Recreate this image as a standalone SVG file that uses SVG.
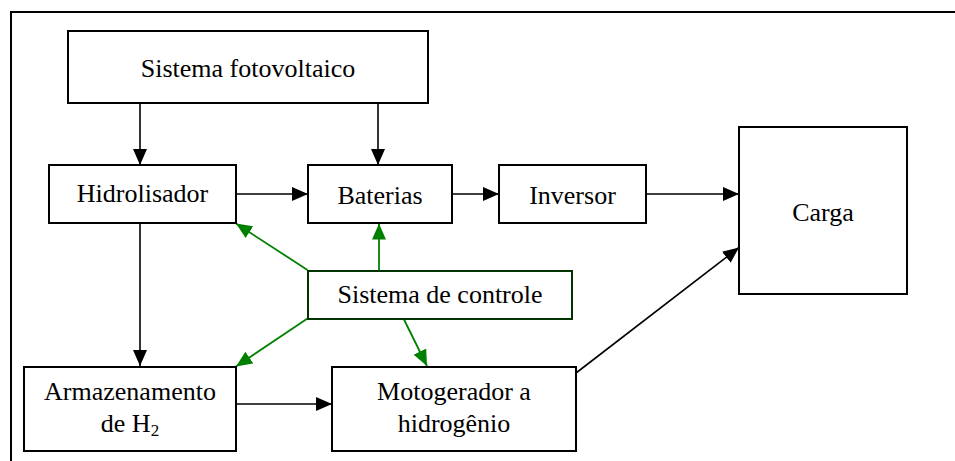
<svg xmlns="http://www.w3.org/2000/svg" width="955" height="461" viewBox="0 0 955 461">
<defs>
<style>
.box{fill:#fff;stroke:#000;stroke-width:2}
.gbox{fill:#fff;stroke:#003300;stroke-width:2}
.t{font-size:26px;fill:#000;text-anchor:middle}
.c{stroke:#000;stroke-width:1.6;fill:none}
.g{stroke:#008000;stroke-width:1.8;fill:none}
</style>
<marker id="ab" markerUnits="userSpaceOnUse" markerWidth="16" markerHeight="16" viewBox="0 0 16 16" refX="16" refY="8" orient="auto">
<path d="M0,1 L16,8 L0,15 Z" fill="#000"/>
</marker>
<marker id="ag" markerUnits="userSpaceOnUse" markerWidth="16" markerHeight="16" viewBox="0 0 16 16" refX="16" refY="8" orient="auto">
<path d="M0,1 L16,8 L0,15 Z" fill="#008000"/>
</marker>
</defs>
<rect width="955" height="461" fill="#fff"/>
<g id="frame">
<path d="M11,461 L11,12 L955,12" fill="none" stroke="#000" stroke-width="2"/>
</g>
<g id="connectors">
<line class="c" x1="140" y1="103" x2="140" y2="165" marker-end="url(#ab)"/>
<line class="c" x1="378" y1="103" x2="378" y2="165" marker-end="url(#ab)"/>
<line class="c" x1="236" y1="194" x2="308" y2="194" marker-end="url(#ab)"/>
<line class="c" x1="452" y1="194" x2="499" y2="194" marker-end="url(#ab)"/>
<line class="c" x1="646" y1="194" x2="739" y2="194" marker-end="url(#ab)"/>
<line class="c" x1="140" y1="223" x2="140" y2="366" marker-end="url(#ab)"/>
<line class="c" x1="236" y1="404" x2="332" y2="404" marker-end="url(#ab)"/>
<line class="c" x1="576" y1="373" x2="739" y2="247.5" marker-end="url(#ab)"/>
<line class="g" x1="307.5" y1="270" x2="236" y2="223.5" marker-end="url(#ag)"/>
<line class="g" x1="379" y1="270" x2="379" y2="223.5" marker-end="url(#ag)"/>
<line class="g" x1="307.5" y1="318.5" x2="236" y2="366.5" marker-end="url(#ag)"/>
<line class="g" x1="403.5" y1="318.5" x2="427" y2="366" marker-end="url(#ag)"/>
</g>
<g id="texts" font-family="Liberation Serif, DejaVu Serif, serif">
<g id="sistema-fotovoltaico">
<rect class="box" x="68" y="31" width="360" height="72"/>
<text class="t" x="248" y="77">Sistema fotovoltaico</text>
</g>
<g id="hidrolisador">
<rect class="box" x="49" y="165" width="187" height="58"/>
<text class="t" x="142.5" y="202">Hidrolisador</text>
</g>
<g id="baterias">
<rect class="box" x="308" y="165" width="144" height="58"/>
<text class="t" x="380" y="204">Baterias</text>
</g>
<g id="inversor">
<rect class="box" x="499" y="165" width="147" height="58"/>
<text class="t" x="572.5" y="204">Inversor</text>
</g>
<g id="carga">
<rect class="box" x="739" y="127" width="168" height="167"/>
<text class="t" x="823" y="221">Carga</text>
</g>
<g id="sistema-de-controle">
<rect class="gbox" x="308" y="271" width="264" height="48"/>
<text class="t" x="440" y="303">Sistema de controle</text>
</g>
<g id="armazenamento">
<rect class="box" x="24" y="367" width="212" height="84"/>
<text class="t" x="130" y="400">Armazenamento</text>
<text class="t" x="130" y="432">de H<tspan font-size="17" dy="4">2</tspan></text>
</g>
<g id="motogerador">
<rect class="box" x="332" y="367" width="244" height="84"/>
<text class="t" x="454" y="400">Motogerador a</text>
<text class="t" x="454" y="432">hidrogênio</text>
</g>
</g>
</svg>
